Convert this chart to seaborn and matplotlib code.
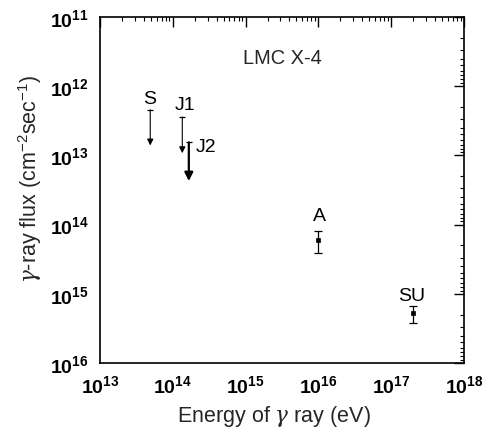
import numpy as np
import matplotlib
matplotlib.use("Agg")
import matplotlib.pyplot as plt
import matplotlib.ticker as mticker
import seaborn as sns
import pandas as pd

sns.set_theme(style="white")
plt.rcParams["font.family"] = ["Liberation Sans", "DejaVu Sans"]
plt.rcParams["mathtext.fontset"] = "custom"
plt.rcParams["mathtext.rm"] = "Liberation Sans"
plt.rcParams["mathtext.bf"] = "Liberation Sans:bold"
plt.rcParams["mathtext.it"] = "DejaVu Serif:italic"

# Upper limits (arrow from the limit value down the axis)
limit_names = ["S", "J1", "J2"]
limit_energy = [4.9e13, 1.35e14, 1.66e14]
limit_top = [2.2e12, 2.8e12, 6.5e12]
limit_tip = [7.2e12, 9.3e12, 2.35e13]
limit_width = [0.8, 0.8, 1.6]

# Detections with error bars
det_names = ["A", "SU"]
det_energy = [0.98e16, 2.0e17]
det_flux = [1.65e14, 1.9e15]
det_err_lo = [1.23e14, 1.48e15]
det_err_hi = [2.55e14, 2.65e15]

x_ticks = [1e13, 1e14, 1e15, 1e16, 1e17, 1e18]
y_ticks = [1e11, 1e12, 1e13, 1e14, 1e15, 1e16]

fig = plt.figure(figsize=(5.0, 4.35), dpi=100)
ax = fig.add_axes([0.200, 0.163, 0.728, 0.796])

ax.set_xscale("log")
ax.set_yscale("log")
ax.set_xlim(1e13, 1e18)
ax.set_ylim(1e16, 1e11)

det = pd.DataFrame({"energy": det_energy, "flux": det_flux, "name": det_names})
sns.scatterplot(data=det, x="energy", y="flux", ax=ax, color="black",
                marker="s", s=9, edgecolor="black", linewidth=0.5, zorder=3)
yerr = np.array([np.array(det_flux) - np.array(det_err_lo),
                 np.array(det_err_hi) - np.array(det_flux)])
ax.errorbar(det_energy, det_flux, yerr=yerr, fmt="none", ecolor="black",
            elinewidth=0.9, capsize=3, capthick=0.9)

lim = pd.DataFrame({"energy": limit_energy, "top": limit_top})
sns.scatterplot(data=lim, x="energy", y="top", ax=ax, color="black",
                marker="_", s=25, linewidth=0.9, zorder=3)
for e, top, tip, w in zip(limit_energy, limit_top, limit_tip, limit_width):
    ax.annotate("", xy=(e, tip), xytext=(e, top),
                arrowprops=dict(arrowstyle="-|>", color="black", lw=w,
                                mutation_scale=6 + 4 * w, shrinkA=0, shrinkB=0))

# Source labels
label_pos = {
    "S": (4.87e13, 1.53e12),
    "J1": (1.49e14, 1.87e12),
    "J2": (2.86e14, 7.57e12),
    "A": (1.05e16, 7.5e13),
    "SU": (1.93e17, 1.07e15),
}
for name, (x, y) in label_pos.items():
    ax.text(x, y, name, ha="center", va="center", fontsize=14, color="black")
ax.text(0.50, 0.884, "LMC X-4", transform=ax.transAxes, ha="center",
        va="center", fontsize=14.4)

ax.set_xticks(x_ticks)
ax.set_yticks(y_ticks)
ax.xaxis.set_major_formatter(mticker.FuncFormatter(
    lambda v, p: r"$\mathbf{10^{%d}}$" % round(np.log10(v))))
ax.yaxis.set_major_formatter(mticker.FuncFormatter(
    lambda v, p: r"$\mathbf{10^{%d}}$" % round(np.log10(v))))
ax.xaxis.set_minor_locator(mticker.LogLocator(base=10, subs=np.arange(2, 10), numticks=20))
ax.yaxis.set_minor_locator(mticker.LogLocator(base=10, subs=np.arange(2, 10), numticks=20))
ax.xaxis.set_minor_formatter(mticker.NullFormatter())
ax.yaxis.set_minor_formatter(mticker.NullFormatter())

ax.tick_params(which="both", direction="in", top=True, right=True,
               colors="black", labelsize=14)
ax.tick_params(which="major", length=7, width=1.0, pad=8)
ax.tick_params(which="minor", length=3, width=0.8)

for s in ax.spines.values():
    s.set_color("black")
    s.set_linewidth(1.2)

ax.set_xlabel(r"Energy of $\gamma$ ray (eV)", fontsize=15.5)
ax.set_ylabel(r"$\gamma$-ray flux (cm$^{-2}$sec$^{-1}$)", fontsize=15.5)
ax.xaxis.set_label_coords((274 - 100) / 364, -(404 - 364) / 346)
ax.yaxis.set_label_coords(-(100 - 44) / 364, (364 - 179) / 346)

fig.savefig("out.png", dpi=100, facecolor="white")
